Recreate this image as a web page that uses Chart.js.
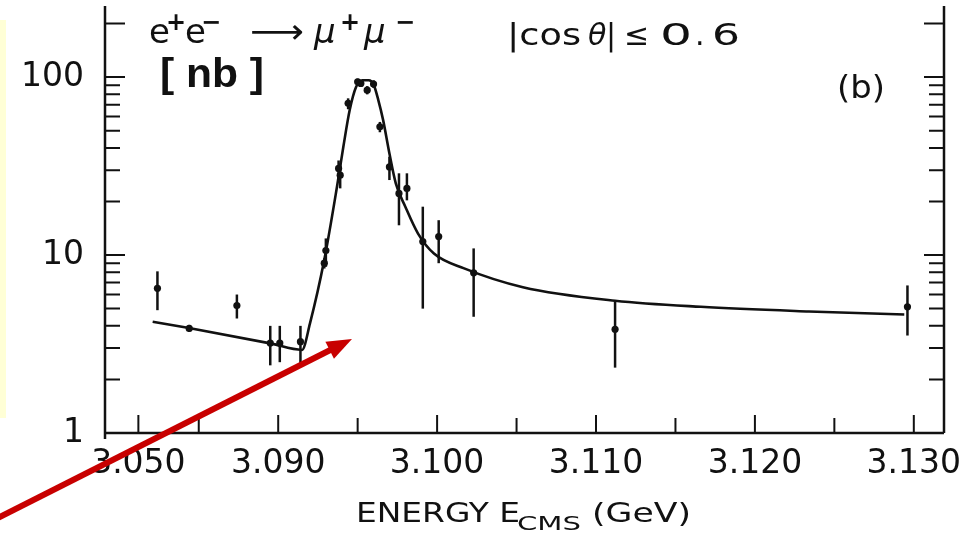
<!DOCTYPE html>
<html>
<head>
<meta charset="utf-8">
<script src="https://cdn.jsdelivr.net/npm/chart.js@4.4.1/dist/chart.umd.min.js"></script>
<style>
html,body{margin:0;padding:0;background:#fff;}
canvas{display:block;}
</style>
</head>
<body>
<canvas id="c" width="968" height="537"></canvas>
<script>
// ---- measured points (E in GeV, sigma in nb) ----
const energies  = [3.0824, 3.0844, 3.0874, 3.0895, 3.0901, 3.0914, 3.0930, 3.0929, 3.0939, 3.0938, 3.0944, 3.0950, 3.0952, 3.0956, 3.0960, 3.0964, 3.0970, 3.0976, 3.0981, 3.0991, 3.1001, 3.1023, 3.1112, 3.1296];
const sigma     = [6.5, 3.87, 5.2, 3.2, 3.2, 3.26, 10.6, 9.0, 28.1, 30.7, 71.2, 94.1, 92.2, 84.5, 91.4, 52.6, 31.3, 22.2, 23.7, 11.9, 12.7, 7.95, 3.83, 5.12];
const sigmaLow  = [4.9, 3.7, 4.4, 2.4, 2.5, 2.4, 8.6, 8.4, 23.7, 27.0, 66, 90, 88, 80, 87, 49, 26.4, 14.7, 20.3, 5.0, 9.0, 4.5, 2.33, 3.53];
const sigmaHigh = [8.1, 4.05, 6.0, 4.0, 4.0, 4.0, 12.4, 9.6, 32.7, 34.0, 76, 98, 96, 89, 96, 56, 35.7, 28.8, 28.8, 18.7, 15.7, 10.9, 5.49, 6.75];

// ---- fitted curve ----
const fitE     = [3.0821, 3.0843, 3.0895, 3.0915, 3.0920, 3.0929, 3.0937, 3.0941, 3.0945, 3.0949, 3.0953, 3.0957, 3.0960, 3.0963, 3.0966, 3.0970, 3.0974, 3.0980, 3.0988, 3.0998, 3.1017, 3.1054, 3.1112, 3.1166, 3.1234, 3.1294];
const fitSigma = [4.22, 3.9, 3.19, 2.93, 4.13, 9.4, 24.2, 40.6, 65.3, 88, 96, 96, 91, 74.3, 57.5, 37.2, 25.3, 18.7, 13.2, 10.2, 8.42, 6.6, 5.54, 5.12, 4.82, 4.63];

// ---- axes ----
const xMin = 3.0791, xMax = 3.1319;
const xTickValues = [3.0812, 3.085, 3.090, 3.095, 3.100, 3.105, 3.110, 3.115, 3.120, 3.125, 3.130];
const xTickLabels = ['3.050', '', '3.090', '', '3.100', '', '3.110', '', '3.120', '', '3.130'];
const yMin = 1, yMax = 251;
const yTickValues = [1,2,3,4,5,6,7,8,9,10,20,30,40,50,60,70,80,90,100,200];
const yTickLabels = ['1','','','','','','','','','10','','','','','','','','','100',''];

// ---- texts ----
const xTitleMain = 'ENERGY E', xTitleSub = 'CMS', xTitleEnd = '(GeV)';
const unitText = '[ nb ]';
const panelText = '(b)';

const AX_FONT = '"DejaVu Sans", sans-serif';

function fitText(ctx, text, x, y, font, width) {
  ctx.font = font;
  const w = ctx.measureText(text).width;
  const sx = width ? width / w : 1;
  ctx.save();
  ctx.translate(x, y);
  ctx.scale(sx, 1);
  ctx.fillText(text, 0, 0);
  ctx.restore();
}

const bgPlugin = {
  id: 'bg',
  beforeDraw(chart) {
    const ctx = chart.ctx;
    ctx.save();
    ctx.fillStyle = '#ffffff';
    ctx.fillRect(0, 0, chart.width, chart.height);
    ctx.fillStyle = '#ffffd6';
    ctx.fillRect(0, 20, 6, 398);
    ctx.restore();
  }
};

const framePlugin = {
  id: 'frame',
  afterDatasetsDraw(chart) {
    const {ctx, chartArea: a, scales: {x, y}} = chart;
    ctx.save();
    ctx.strokeStyle = '#111';
    // error bars
    ctx.lineWidth = 2.5;
    energies.forEach((e, i) => {
      const px = x.getPixelForValue(e);
      ctx.beginPath();
      ctx.moveTo(px, y.getPixelForValue(sigmaLow[i]));
      ctx.lineTo(px, y.getPixelForValue(sigmaHigh[i]));
      ctx.stroke();
    });
    // axes lines
    ctx.lineWidth = 2.5;
    ctx.beginPath();
    ctx.moveTo(a.left, a.top); ctx.lineTo(a.left, a.bottom + 6);
    ctx.moveTo(a.right, a.top); ctx.lineTo(a.right, a.bottom);
    ctx.moveTo(a.left, a.bottom); ctx.lineTo(a.right, a.bottom);
    ctx.stroke();
    // y ticks (inward on both sides)
    ctx.lineWidth = 2;
    y.ticks.forEach((t, i) => {
      const py = y.getPixelForValue(t.value);
      const len = yTickLabels[i] || t.value === 200 ? 20 : 15;
      ctx.beginPath();
      ctx.moveTo(a.left, py); ctx.lineTo(a.left + len, py);
      ctx.moveTo(a.right, py); ctx.lineTo(a.right - len, py);
      ctx.stroke();
    });
    // x ticks (inward)
    x.ticks.forEach((t, i) => {
      const px = x.getPixelForValue(t.value);
      const len = xTickLabels[i] ? 18 : 15;
      ctx.beginPath();
      ctx.moveTo(px, a.bottom); ctx.lineTo(px, a.bottom - len);
      ctx.stroke();
    });
    ctx.restore();
  }
};

const textPlugin = {
  id: 'texts',
  afterDraw(chart) {
    const ctx = chart.ctx;
    ctx.save();
    ctx.fillStyle = '#111';
    ctx.textBaseline = 'alphabetic';
    ctx.textAlign = 'left';
    const big = '34px ' + AX_FONT, bigIt = 'oblique 34px ' + AX_FONT, sup = 'bold 24px ' + AX_FONT;
    // e+ e-  ->  mu+ mu-
    fitText(ctx, 'e', 149, 43, big);
    fitText(ctx, '+', 166, 30, sup);
    fitText(ctx, 'e', 185, 43, big);
    fitText(ctx, '\u2212', 201, 30, sup);
    fitText(ctx, '\u27F6', 250, 43, big, 54);
    fitText(ctx, '\u03BC', 314, 43, bigIt);
    fitText(ctx, '+', 340, 30, sup);
    fitText(ctx, '\u03BC', 364, 43, bigIt);
    fitText(ctx, '\u2212', 395, 30, sup);
    // |cos theta| <= 0.6
    const f30 = '30px ' + AX_FONT;
    fitText(ctx, '|cos', 507, 45, f30, 74);
    fitText(ctx, '\u03B8', 588, 45, 'oblique 30px ' + AX_FONT);
    fitText(ctx, '|', 606, 45, f30);
    fitText(ctx, '\u2264', 624, 45, f30);
    fitText(ctx, '0', 660, 45, f30, 32);
    fitText(ctx, '.', 695, 45, f30);
    fitText(ctx, '6', 712, 45, f30, 28);
    // (b)
    fitText(ctx, panelText, 837, 98, '32px ' + AX_FONT, 48);
    // [ nb ]
    fitText(ctx, unitText, 160, 87, 'bold 40px "Liberation Sans", Arial, sans-serif', 104);
    // x title
    fitText(ctx, xTitleMain, 356, 522, '27px ' + AX_FONT, 164);
    fitText(ctx, xTitleSub, 517, 530, '20px ' + AX_FONT, 64);
    fitText(ctx, xTitleEnd, 592, 522, '27px ' + AX_FONT, 99);
    // red arrow
    const tail = {x: -4, y: 519}, tip = {x: 352, y: 339};
    const dx = tip.x - tail.x, dy = tip.y - tail.y, L = Math.hypot(dx, dy);
    const ux = dx / L, uy = dy / L, nx = -uy, ny = ux;
    const hl = 25, hw = 9.5;
    ctx.strokeStyle = '#c80000';
    ctx.fillStyle = '#c80000';
    ctx.lineWidth = 6;
    ctx.beginPath();
    ctx.moveTo(tail.x, tail.y);
    ctx.lineTo(tip.x - ux * (hl - 4), tip.y - uy * (hl - 4));
    ctx.stroke();
    ctx.beginPath();
    ctx.moveTo(tip.x, tip.y);
    ctx.lineTo(tip.x - ux * hl + nx * hw, tip.y - uy * hl + ny * hw);
    ctx.lineTo(tip.x - ux * hl - nx * hw, tip.y - uy * hl - ny * hw);
    ctx.closePath();
    ctx.fill();
    ctx.restore();
  }
};

new Chart(document.getElementById('c'), {
  type: 'scatter',
  data: {
    datasets: [
      {
        type: 'line',
        data: fitE.map((e, i) => ({x: e, y: fitSigma[i]})),
        borderColor: '#111',
        borderWidth: 2.6,
        pointRadius: 0,
        cubicInterpolationMode: 'monotone',
        fill: false
      },
      {
        type: 'scatter',
        data: energies.map((e, i) => ({x: e, y: sigma[i]})),
        pointRadius: 3.6,
        pointBackgroundColor: '#111',
        pointBorderColor: '#111',
        pointBorderWidth: 0
      }
    ]
  },
  options: {
    responsive: false,
    animation: false,
    devicePixelRatio: 1,
    layout: {padding: {left: 0, right: 24, top: 6, bottom: 0}},
    plugins: {legend: {display: false}, tooltip: {enabled: false}},
    scales: {
      x: {
        type: 'linear',
        min: xMin, max: xMax,
        grid: {display: false, drawTicks: false},
        border: {display: false},
        afterBuildTicks: s => { s.ticks = xTickValues.map(v => ({value: v})); },
        afterFit: s => { s.height = 104; s.paddingLeft = 0; s.paddingRight = 0; },
        ticks: {
          autoSkip: false, maxRotation: 0, padding: 12,
          color: '#111',
          font: {family: 'DejaVu Sans', size: 33},
          callback: (v, i) => xTickLabels[i]
        }
      },
      y: {
        type: 'logarithmic',
        min: yMin, max: yMax,
        grid: {display: false, drawTicks: false},
        border: {display: false},
        afterBuildTicks: s => { s.ticks = yTickValues.map(v => ({value: v})); },
        afterFit: s => { s.width = 105; s.paddingTop = 0; s.paddingBottom = 0; },
        ticks: {
          autoSkip: false, padding: 21,
          color: '#111',
          font: {family: 'DejaVu Sans', size: 33},
          callback: (v, i) => yTickLabels[i]
        }
      }
    }
  },
  plugins: [bgPlugin, framePlugin, textPlugin]
});
</script>
</body>
</html>
